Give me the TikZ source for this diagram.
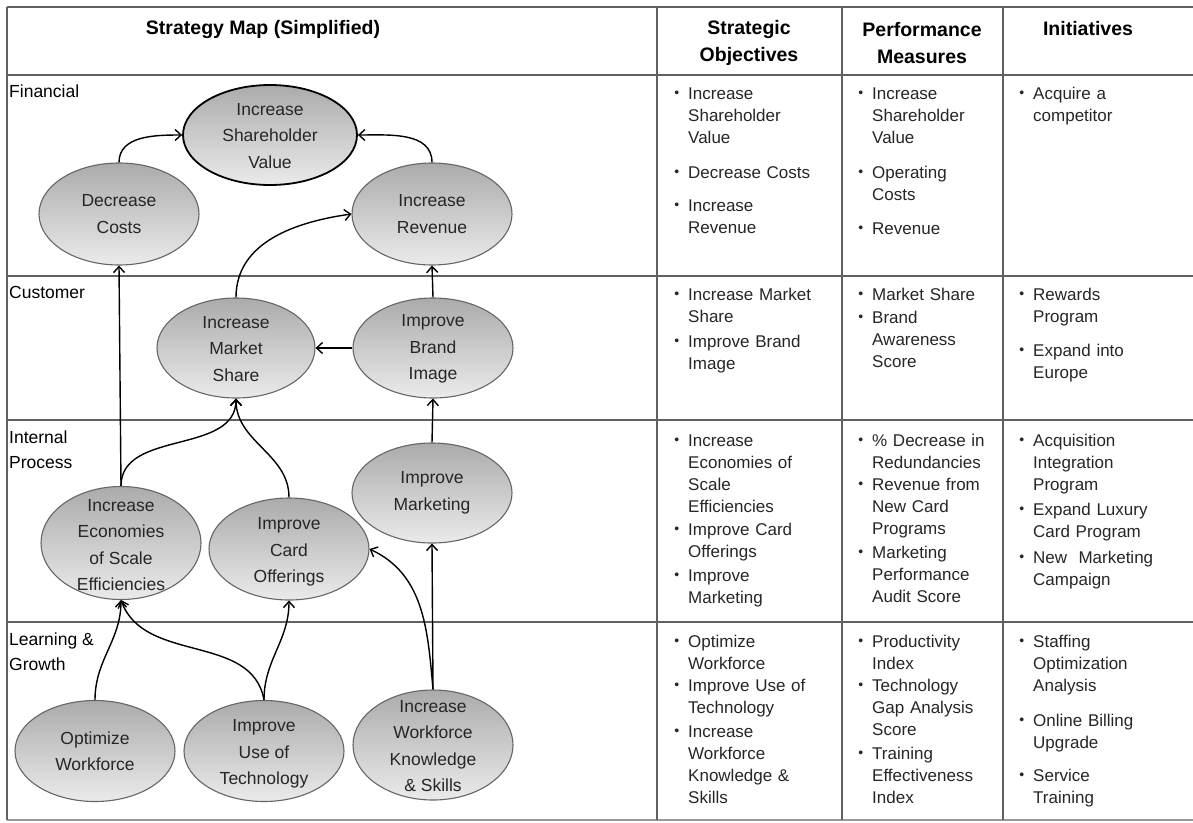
\documentclass[tikz,border=0pt]{standalone}
\usepackage{fontspec}
\setmainfont{Liberation Sans}
\usetikzlibrary{shapes.geometric,arrows.meta}
\newcommand{\bul}{\llap{{\fontsize{14}{14}\selectfont\raisebox{1.5pt}{•}}\hspace{9pt}}}
\begin{document}
\begin{tikzpicture}[x=1pt,y=1pt,
 grid/.style={draw=black!62, line width=2pt},
 oval/.style={ellipse, draw=black!60, line width=1.1pt, top color=black!33, bottom color=black!8, inner sep=0pt},
 topoval/.style={oval, draw=black, line width=1.8pt},
 ovaltext/.style={align=center, font=\fontsize{17.5}{26.5}\selectfont, text=black!85, inner sep=0pt},
 conn/.style={-{Straight Barb[length=6pt,width=11pt]}, line width=1.4pt, black},
 itemtxt/.style={align=left, font=\fontsize{17}{22.3}\selectfont, inner sep=0pt, text=black!85, anchor=base west},
 c1/.style={itemtxt, text width=160pt},
 c2/.style={itemtxt, text width=135pt},
 c3/.style={itemtxt, text width=158pt},
 head/.style={align=center, font=\bfseries\fontsize{19.5}{27}\selectfont, inner sep=0pt},
 rowlab/.style={align=left, anchor=west, font=\fontsize{17.5}{25}\selectfont, inner sep=0pt}
]
\useasboundingbox (0,0) rectangle (1193,-822);
\fill[white] (0,0) rectangle (1193,-822);

% grid
\draw[grid] (7,-7) -- (1193,-7);
\draw[grid] (7,-75) -- (1193,-75);
\draw[grid] (7,-276) -- (1193,-276);
\draw[grid] (7,-420) -- (1193,-420);
\draw[grid] (7,-622) -- (1193,-622);
\draw[grid, draw=black!40] (7,-820) -- (1193,-820);
\draw[grid] (7,-7) -- (7,-820);
\draw[grid] (657,-7) -- (657,-820);
\draw[grid] (842,-7) -- (842,-820);
\draw[grid] (1003,-7) -- (1003,-820);

% headers
\node[head] (h0) at (263,-29) {Strategy Map (Simplified)};
\node[head] (h1) at (749,-43) {Strategic\\Objectives};
\node[head] (h2) at (922,-43) {Performance\\Measures};
\node[head] (h3) at (1088,-29) {Initiatives};

% row labels
\node[rowlab] (r1) at (9,-91) {Financial};
\node[rowlab] (r2) at (9,-292) {Customer};
\node[rowlab] (r3) at (9,-449.5) {Internal\\Process};
\node[rowlab] (r4) at (9,-651.5) {Learning \&\\Growth};

% ellipses
\node[topoval, minimum width=174pt, minimum height=100pt] (sv) at (270,-135) {};
\node[oval, minimum width=160pt, minimum height=102pt] (dc) at (119,-214) {};
\node[oval, minimum width=160pt, minimum height=102pt] (ir) at (432,-214) {};
\node[oval, minimum width=158pt, minimum height=100pt] (ms) at (236,-348) {};
\node[oval, minimum width=160pt, minimum height=100pt] (bi) at (433,-348) {};
\node[oval, minimum width=160pt, minimum height=100pt] (mk) at (432,-493) {};
\node[oval, minimum width=160pt, minimum height=113pt] (es) at (121,-543) {};
\node[oval, minimum width=160pt, minimum height=102pt] (co) at (289,-549) {};
\node[oval, minimum width=160pt, minimum height=101pt] (ow) at (95,-751) {};
\node[oval, minimum width=160pt, minimum height=101pt] (ut) at (264,-751) {};
\node[oval, minimum width=160pt, minimum height=110pt] (wk) at (433,-745) {};

\node[ovaltext] (sv-t) at (270,-136) {Increase\\Shareholder\\Value};
\node[ovaltext] (dc-t) at (119,-214) {Decrease\\Costs};
\node[ovaltext] (ir-t) at (432,-214) {Increase\\Revenue};
\node[ovaltext] (ms-t) at (236,-349) {Increase\\Market\\Share};
\node[ovaltext] (bi-t) at (433,-349) {Improve\\Brand\\Image};
\node[ovaltext] (mk-t) at (432,-493) {Improve\\Marketing};
\node[ovaltext] (es-t) at (121,-545) {Increase\\Economies\\of Scale\\Efficiencies};
\node[ovaltext] (co-t) at (289,-552) {Improve\\Card\\Offerings};
\node[ovaltext] (ow-t) at (95,-751) {Optimize\\Workforce};
\node[ovaltext] (ut-t) at (264,-754) {Improve\\Use of\\Technology};
\node[ovaltext] (wk-t) at (433,-746) {Increase\\Workforce\\Knowledge\\\& Skills};

% connectors
\draw[conn] (dc.north) to[out=90,in=180] (sv.west);
\draw[conn] (ir.north) to[out=90,in=0] (sv.east);
\draw[conn] (ms.north) to[out=90,in=188] (ir.west);
\draw[conn] (bi.north) -- (ir.south);
\draw[conn] (bi.west) -- (ms.east);
\draw[conn] (es.north) -- (dc.south);
\draw[conn] (es.north) to[out=90,in=-90] (ms.south);
\draw[conn] (co.north) to[out=90,in=-90] (ms.south);
\draw[conn] (mk.north) -- (bi.south);
\draw[conn] (ow.north) to[out=90,in=-90] (es.south);
\draw[conn] (ut.north) to[out=100,in=-70] (es.south);
\draw[conn] (ut.north) to[out=90,in=-90] (co.south);
\draw[conn] (wk.north) -- (mk.south);
\draw[conn] (wk.north) to[out=95,in=-25] (co.east);

% column 1: strategic objectives
\node[c1] (o1) at (688,-99) {\bul Increase\\Shareholder\\Value};
\node[c1] (o2) at (688,-178) {\bul Decrease Costs};
\node[c1] (o3) at (688,-211) {\bul Increase\\Revenue};
\node[c1] (o4) at (688,-300) {\bul Increase Market\\Share};
\node[c1] (o5) at (688,-347) {\bul Improve Brand\\Image};
\node[c1] (o6) at (688,-446) {\bul Increase\\Economies of\\Scale\\Efficiencies};
\node[c1] (o7) at (688,-535) {\bul Improve Card\\Offerings};
\node[c1] (o8) at (688,-581) {\bul Improve\\Marketing};
\node[c1] (o9) at (688,-647) {\bul Optimize\\Workforce};
\node[c1] (o10) at (688,-691) {\bul Improve Use of\\Technology};
\node[c1] (o11) at (688,-737) {\bul Increase\\Workforce\\Knowledge \&\\Skills};

% column 2: performance measures
\node[c2] (p1) at (872,-99) {\bul Increase\\Shareholder\\Value};
\node[c2] (p2) at (872,-178) {\bul Operating\\Costs};
\node[c2] (p3) at (872,-234) {\bul Revenue};
\node[c2] (p4) at (872,-300) {\bul Market Share};
\node[c2] (p5) at (872,-323) {\bul Brand\\Awareness\\Score};
\node[c2] (p6) at (872,-446) {\bul \% Decrease in\\Redundancies};
\node[c2] (p7) at (872,-490) {\bul Revenue from\\New Card\\Programs};
\node[c2] (p8) at (872,-558) {\bul Marketing\\Performance\\Audit Score};
\node[c2] (p9) at (872,-647) {\bul Productivity\\Index};
\node[c2] (p10) at (872,-691) {\bul Technology\\Gap Analysis\\Score};
\node[c2] (p11) at (872,-759) {\bul Training\\Effectiveness\\Index};

% column 3: initiatives
\node[c3] (i1) at (1033,-99) {\bul Acquire a\\competitor};
\node[c3] (i2) at (1033,-300) {\bul Rewards\\Program};
\node[c3] (i3) at (1033,-356) {\bul Expand into\\Europe};
\node[c3] (i4) at (1033,-446) {\bul Acquisition\\Integration\\Program};
\node[c3] (i5) at (1033,-515) {\bul Expand Luxury\\Card Program};
\node[c3] (i6) at (1033,-563) {\bul New\ \ Marketing\\Campaign};
\node[c3] (i7) at (1033,-647) {\bul Staffing\\Optimization\\Analysis};
\node[c3] (i8) at (1033,-726) {\bul Online Billing\\Upgrade};
\node[c3] (i9) at (1033,-781) {\bul Service\\Training};
\end{tikzpicture}
\end{document}
